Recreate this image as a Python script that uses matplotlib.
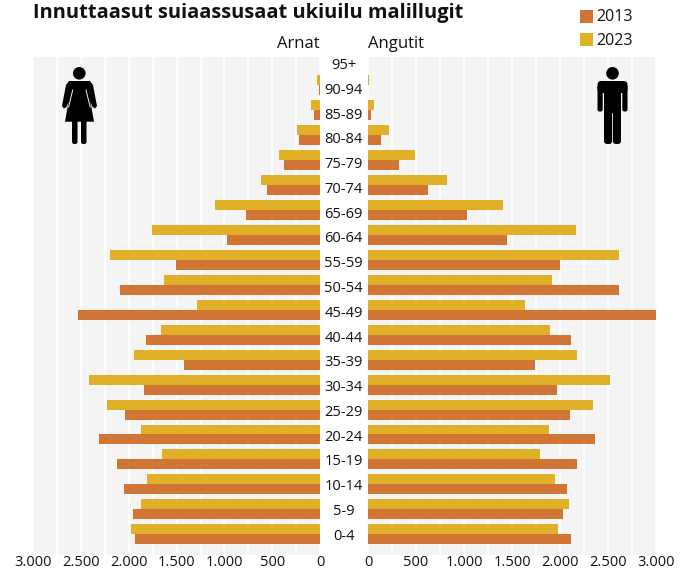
import matplotlib
matplotlib.use('Agg')
import matplotlib.pyplot as plt
from matplotlib.patches import Circle, Polygon, FancyBboxPatch

plt.rcParams['font.family'] = ['Open Sans', 'DejaVu Sans']

ages = ['0-4', '5-9', '10-14', '15-19', '20-24', '25-29', '30-34', '35-39', '40-44', '45-49',
        '50-54', '55-59', '60-64', '65-69', '70-74', '75-79', '80-84', '85-89', '90-94', '95+']
women_2013 = [1935, 1956, 2050, 2123, 2312, 2040, 1841, 1423, 1820, 2531,
              2092, 1506, 973, 774, 554, 377, 220, 63, 10, 0]
women_2023 = [1977, 1872, 1810, 1653, 1872, 2228, 2416, 1946, 1663, 1287,
              1632, 2197, 1757, 1098, 617, 429, 241, 94, 31, 3]
men_2013 = [2115, 2031, 2073, 2177, 2365, 2104, 1969, 1740, 2115, 2997,
            2612, 2000, 1446, 1030, 624, 323, 135, 31, 0, 0]
men_2023 = [1980, 2094, 1948, 1790, 1883, 2341, 2518, 2175, 1894, 1633,
            1915, 2612, 2165, 1404, 822, 489, 219, 62, 10, 5]
ticks = [0, 500, 1000, 1500, 2000, 2500, 3000]
tick_labels = ['0', '500', '1.000', '1.500', '2.000', '2.500', '3.000']

ORANGE = '#d07534'
YELLOW = '#e0b029'
INK = '#111111'
W, H = 683, 569

fig = plt.figure(figsize=(W / 100, H / 100), dpi=100)

def px_axes(x0, x1, y0, y1):
    return fig.add_axes([x0 / W, 1 - y1 / H, (x1 - x0) / W, (y1 - y0) / H])

axl = px_axes(33.2, 320, 57, 554.5)
axr = px_axes(368, 657, 57, 554.5)

pos = list(range(len(ages)))
for ax, d13, d23 in [(axl, women_2013, women_2023), (axr, men_2013, men_2023)]:
    ax.set_facecolor('#f4f4f4')
    ax.barh([p + 0.2 for p in pos], d23, height=0.4, color=YELLOW, zorder=3)
    ax.barh([p - 0.2 for p in pos], d13, height=0.4, color=ORANGE, zorder=3)
    ax.set_ylim(-0.814, 19.14)
    ax.set_yticks([])
    ax.set_xticks(ticks)
    ax.set_xticklabels(tick_labels, fontsize=10.5, color=INK)
    ax.set_xticks(range(250, 3000, 500), minor=True)
    ax.grid(True, axis='x', which='both', color='white', lw=1.2, zorder=1)
    ax.tick_params(axis='x', which='both', length=0, pad=0.3)
    for s in ax.spines.values():
        s.set_visible(False)

axl.set_xlim(3000, 0)
axr.set_xlim(0, 3007)

# overlay in pixel coordinates for texts and icons
leg = px_axes(0, W, 0, H)
leg.set_xlim(0, W)
leg.set_ylim(H, 0)
leg.axis('off')
leg.set_zorder(5)

# age labels between the two sides
for p, a in zip(pos, ages):
    leg.text(343.5, 536.3 - p * 24.78, a, ha='center', va='center', fontsize=10.5, color=INK)

leg.text(33, 18, 'Innuttaasut suiaassusaat ukiuilu malillugit', fontsize=14.37,
         fontweight='bold', ha='left', va='baseline', color=INK)
leg.text(320, 44, 'Arnat', fontsize=12, ha='right', va='center', color=INK)
leg.text(367.5, 44, 'Angutit', fontsize=12, ha='left', va='center', color=INK)

# legend
leg.add_patch(plt.Rectangle((580, 10), 13, 13, color=ORANGE, lw=0))
leg.add_patch(plt.Rectangle((580, 33), 13, 13, color=YELLOW, lw=0))
leg.text(596, 17, '2013', fontsize=11.5, va='center', color=INK)
leg.text(596, 41, '2023', fontsize=11.5, va='center', color=INK)

# woman icon
leg.add_patch(Circle((79.3, 73.3), 6.3, color='black', lw=0))
leg.add_patch(Polygon([(69, 81), (90, 81), (93, 85), (97, 106), (95, 108.5), (92.5, 107), (90.5, 102),
                       (94, 121.7), (65, 121.7), (68.5, 102), (66.5, 107), (64, 108.5), (62, 106), (66, 85)],
                      closed=True, color='black', lw=0))
leg.plot([72.7, 68.6], [90, 107], color='#f4f4f4', lw=0.7)
leg.plot([86, 90.2], [90, 107], color='#f4f4f4', lw=0.7)
leg.add_patch(FancyBboxPatch((72, 120), 5.5, 24, boxstyle='round,pad=0,rounding_size=2.2', color='black', lw=0))
leg.add_patch(FancyBboxPatch((81, 120), 5.5, 24, boxstyle='round,pad=0,rounding_size=2.2', color='black', lw=0))

# man icon
leg.add_patch(Circle((612.5, 73.3), 6.3, color='black', lw=0))
leg.add_patch(FancyBboxPatch((597.5, 81), 30, 12, boxstyle='round,pad=0,rounding_size=4', color='black', lw=0))
leg.add_patch(FancyBboxPatch((597.5, 85), 5.2, 26.5, boxstyle='round,pad=0,rounding_size=2', color='black', lw=0))
leg.add_patch(FancyBboxPatch((622.3, 85), 5.2, 26.5, boxstyle='round,pad=0,rounding_size=2', color='black', lw=0))
leg.add_patch(plt.Rectangle((604, 85), 17, 28, color='black', lw=0))
leg.add_patch(FancyBboxPatch((604, 108), 8.1, 36, boxstyle='round,pad=0,rounding_size=3', color='black', lw=0))
leg.add_patch(FancyBboxPatch((612.9, 108), 8.1, 36, boxstyle='round,pad=0,rounding_size=3', color='black', lw=0))

fig.savefig('out.png', dpi=100)
